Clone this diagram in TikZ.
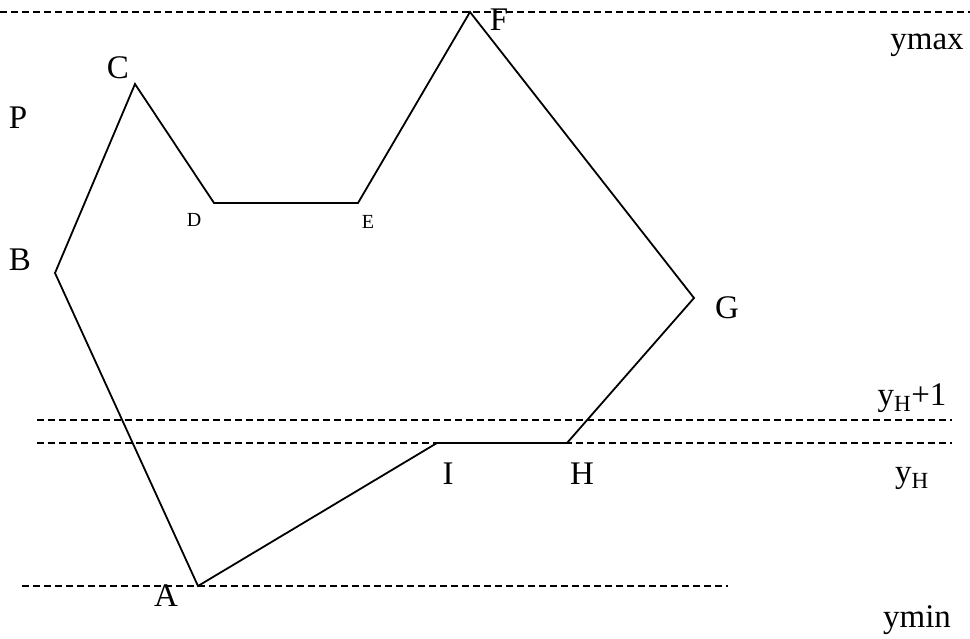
\documentclass[tikz,border=0pt]{standalone}
\usepackage{fontspec}
\setmainfont{Liberation Serif}
\usetikzlibrary{positioning}

\begin{document}
\begin{tikzpicture}[x=1pt,y=-1pt,
    lbl/.style={inner sep=0pt, font=\fontsize{33}{36}\selectfont},
    tiny/.style={inner sep=0pt, font=\fontsize{20}{24}\selectfont},
    edge/.style={line width=1.8pt, line join=miter},
    level/.style={line width=1.6pt, dash pattern=on 7pt off 4pt}]
    \useasboundingbox (0,0) rectangle (970,639);

    % vertices of the polygon
    \coordinate (A) at (198,586);
    \coordinate (B) at (55,273);
    \coordinate (C) at (135,84);
    \coordinate (D) at (214,203);
    \coordinate (E) at (358,203);
    \coordinate (F) at (470,12);
    \coordinate (G) at (694,298);
    \coordinate (H) at (567,443);
    \coordinate (I) at (437,443);

    % ends of the scan lines
    \coordinate (ymaxl) at (0,12);    \coordinate (ymaxr) at (970,12);
    \coordinate (yhpl) at (37,420);   \coordinate (yhpr) at (952,420);
    \coordinate (yhl) at (37,443);    \coordinate (yhr) at (952,443);
    \coordinate (yminl) at (22,586);  \coordinate (yminr) at (728,586);

    \draw[level] (ymaxl) -- (ymaxr);
    \draw[level] (yhpl) -- (yhpr);
    \draw[level] (yhl) -- (yhr);
    \draw[level] (yminl) -- (yminr);

    \draw[edge] (A) -- (B) -- (C) -- (D) -- (E) -- (F) -- (G) -- (H) -- (I) -- cycle;

    % labels
    \node[lbl] (lA) at (166,596) {A};
    \node[lbl] (lB) at (20,260) {B};
    \node[lbl] (lC) at (118,68) {C};
    \node[tiny] (lD) at (194,220) {D};
    \node[tiny] (lE) at (368,222) {E};
    \node[lbl] (lF) at (499,20) {F};
    \node[lbl] (lG) at (727,308) {G};
    \node[lbl] (lH) at (582,474) {H};
    \node[lbl] (lI) at (448,474) {I};
    \node[lbl] (lP) at (18,118) {P};
    \node[lbl] (lymax) at (927,45) {ymax};
    \node[lbl] (lyhp) at (912,398) {y\textsubscript{H}+1};
    \node[lbl] (lyh) at (912,478) {y\textsubscript{H}};
    \node[lbl] (lymin) at (917,620) {ymin};
\end{tikzpicture}
\end{document}
